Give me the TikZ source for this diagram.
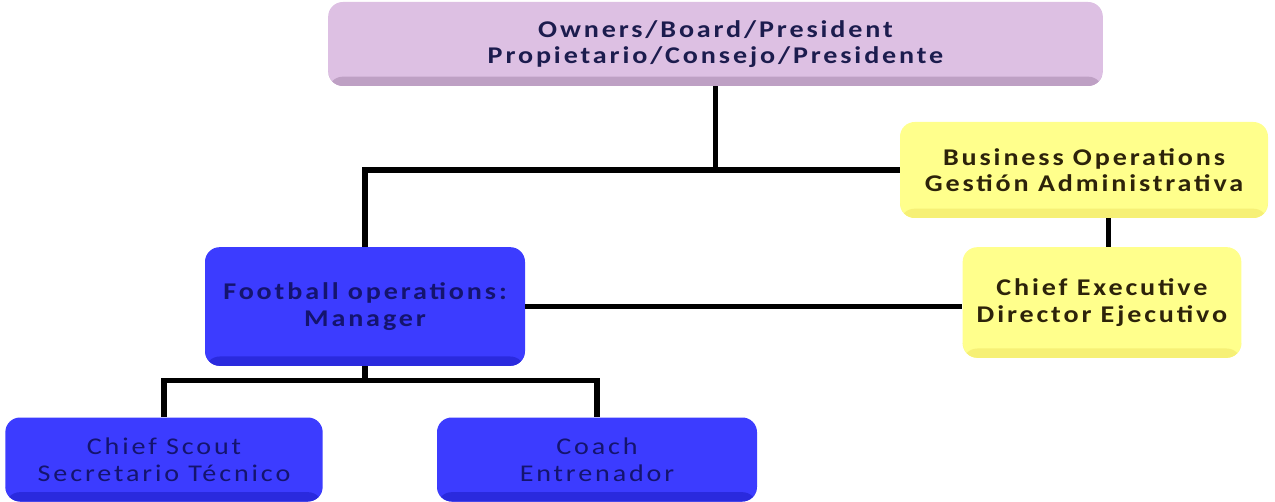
\documentclass[tikz,border=0pt]{standalone}
\usepackage{fontspec}
\setmainfont{Carlito}[LetterSpace=12, FakeStretch=1.17]
\definecolor{pinkc}{RGB}{221,192,227}
\definecolor{pinkdk}{RGB}{190,160,196}
\definecolor{yellowc}{RGB}{255,255,140}
\definecolor{yellowdk}{RGB}{246,240,118}
\definecolor{bluec}{RGB}{60,60,255}
\definecolor{bluedk}{RGB}{42,42,222}
\definecolor{navytext}{RGB}{28,28,78}
\definecolor{bluetext}{RGB}{20,20,110}
\definecolor{browntext}{RGB}{45,35,10}
\tikzset{
  orgbox/.style={rounded corners=11pt, align=center, inner sep=0pt,
    font=\fontsize{18}{20}\selectfont,
    path picture={\fill[#1] ([yshift=7pt]path picture bounding box.south west) rectangle (path picture bounding box.south east);}},
  ownerbox/.style={orgbox=pinkdk, fill=pinkc, text=navytext, font=\fontsize{18}{20}\selectfont\bfseries},
  adminbox/.style={orgbox=yellowdk, fill=yellowc, text=browntext, font=\fontsize{18}{20}\selectfont\bfseries},
  footbox/.style={orgbox=bluedk, fill=bluec, text=bluetext},
  link/.style={line width=3.8pt, black}
}
\begin{document}
\begin{tikzpicture}[x=0.75pt,y=0.75pt,yscale=-1,xscale=1]
\useasboundingbox (0,0) rectangle (1275,502);

% boxes
\node[ownerbox, minimum width=581pt, minimum height=63pt] (owners) at (715.5,44) {Owners/Board/President\\Propietario/Consejo/Presidente};
\node[adminbox, minimum width=276pt, minimum height=72pt] (business) at (1084,170) {Business Operations\\Gestión Administrativa};
\node[adminbox, minimum width=209pt, minimum height=83pt] (chiefexec) at (1102,302.5) {Chief Executive\\Director Ejecutivo};
\node[footbox, minimum width=240pt, minimum height=89pt, font=\fontsize{18}{20}\selectfont\bfseries] (football) at (365,306.5) {Football operations:\\Manager};
\node[footbox, minimum width=238pt, minimum height=63pt] (scout) at (164,459.5) {Chief Scout\\Secretario Técnico};
\node[footbox, minimum width=240pt, minimum height=63pt] (coach) at (597,459.5) {Coach\\Entrenador};

% connectors
\path (football.south) ++(0,14) coordinate (fork);
\draw[link] (owners.south) -- (owners.south |- business.west);
\draw[link] (business.west) -| (football.north);
\draw[link] ([xshift=5pt]chiefexec.north) -- ([xshift=5pt]chiefexec.north |- business.south);
\draw[link] (football.east) -- (football.east -| chiefexec.west);
\draw[link] (football.south) -- (fork);
\draw[link] (scout.north) |- (fork) -| (coach.north);

\end{tikzpicture}
\end{document}
